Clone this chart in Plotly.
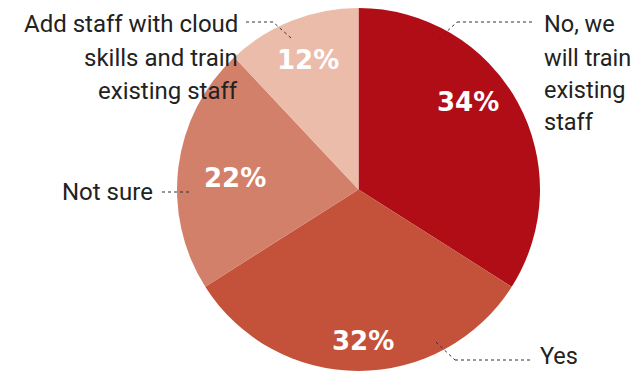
import plotly.graph_objects as go

labels = ["No, we will train existing staff", "Yes", "Not sure", "Add staff with cloud skills and train existing staff"]
values = [34, 32, 22, 12]
pct_text = ["34%", "32%", "22%", "12%"]
colors = ["#b00d17", "#c4523b", "#d3806a", "#ebbca9"]
label_lines = [
    ["No, we", "will train", "existing", "staff"],
    ["Yes"],
    ["Not sure"],
    ["Add staff with cloud", "skills and train", "existing staff"],
]

# page has an 8px body margin; figure is placed at (8, 8)
OFF = 8
W, H = 640 - OFF, 371 - OFF
def px(x): return (x - OFF) / W
def py(y): return 1 - (y - OFF) / H

fig = go.Figure(go.Pie(
    labels=labels, values=values, sort=False, direction="clockwise", rotation=0,
    marker=dict(colors=colors, line=dict(width=0)),
    textinfo="none", hoverinfo="label+percent", showlegend=False,
    domain=dict(x=[px(177), px(540)], y=[py(371), py(8)]),
))

label_font = dict(family="Roboto, sans-serif", size=24, color="#222222")
right_font = dict(family="Roboto, sans-serif", size=23.5, color="#222222")
pct_font = dict(family="DejaVu Sans, sans-serif", size=26, color="white")

ann = []
# category label placement: (anchor x, xanchor, line centre ys, font)
label_place = [
    (542, "left", [24, 58, 90, 122], right_font),
    (538, "left", [356], right_font),
    (155, "right", [192], label_font),
    (240, "right", [24, 58, 91], label_font),
]
for lines, (x, xa, ys, f) in zip(label_lines, label_place):
    for t, y in zip(lines, ys):
        ann.append(dict(x=px(x), y=py(y), text=t, xanchor=xa, yanchor="middle", font=f))
# percentages
pct_pos = [(468, 102), (363, 341), (235, 178), (308, 60)]
for t, (x, y) in zip(pct_text, pct_pos):
    ann.append(dict(x=px(x), y=py(y), text="<b>%s</b>" % t, xanchor="center", yanchor="middle",
                    font=pct_font))
for a in ann:
    a.update(xref="paper", yref="paper", showarrow=False)

leaders = [
    [(291, 38), (273, 22), (244, 22)],
    [(439, 39), (457, 22), (533, 22)],
    [(162, 192), (190, 192)],
    [(436, 342), (455, 360), (532, 360)],
]
shapes = []
for pts in leaders:
    for (x0, y0), (x1, y1) in zip(pts[:-1], pts[1:]):
        shapes.append(dict(type="line", xref="paper", yref="paper",
                           x0=px(x0), y0=py(y0), x1=px(x1), y1=py(y1),
                           line=dict(color="#333333", width=1, dash="dot")))

fig.update_layout(width=W, height=H, margin=dict(l=0, r=0, t=0, b=0),
                  paper_bgcolor="white", plot_bgcolor="white",
                  annotations=ann, shapes=shapes)
fig.write_html("out.html")
